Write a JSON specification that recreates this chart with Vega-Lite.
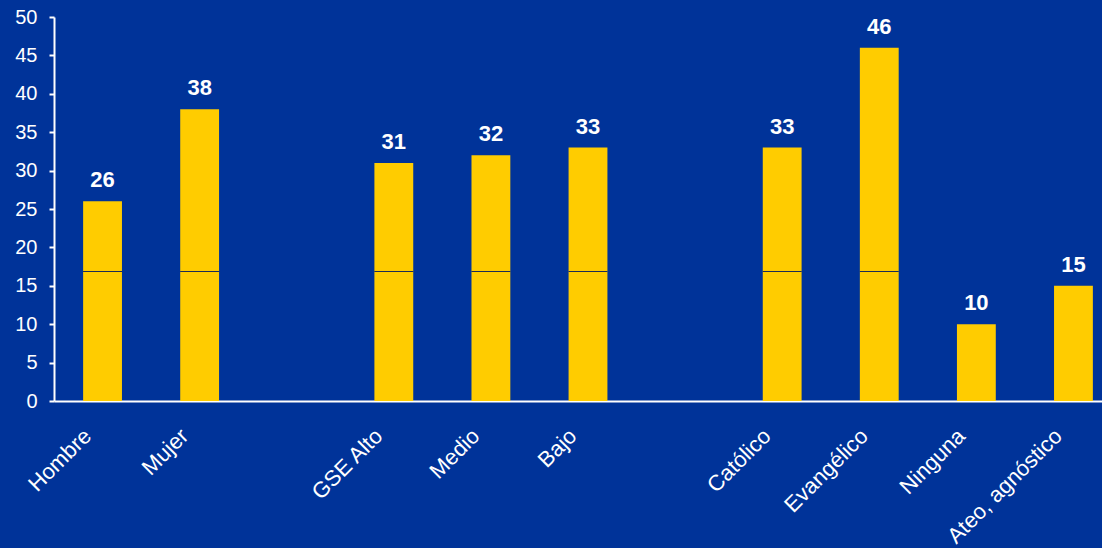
{
  "$schema": "https://vega.github.io/schema/vega-lite/v6.json",
  "width": 1068,
  "height": 384,
  "autosize": {"type": "none"},
  "padding": {"left": 54, "top": 17, "right": 0, "bottom": 147},
  "background": "#003399",
  "config": {
    "view": {"stroke": null},
    "font": "Liberation Sans",
    "axisY": {
      "labelColor": "white",
      "labelFontSize": 20,
      "labelPadding": 12,
      "labelOverlap": false,
      "labelBound": false,
      "labelFlush": false,
      "tickColor": "white",
      "tickSize": 5,
      "tickWidth": 2,
      "domainColor": "white",
      "domainWidth": 2,
      "grid": false
    }
  },
  "data": {
    "values": [
      {"cat": "Hombre", "value": 26},
      {"cat": "Mujer", "value": 38},
      {"cat": "GSE Alto", "value": 31},
      {"cat": "Medio", "value": 32},
      {"cat": "Bajo", "value": 33},
      {"cat": "Católico", "value": 33},
      {"cat": "Evangélico", "value": 46},
      {"cat": "Ninguna", "value": 10},
      {"cat": "Ateo, agnóstico", "value": 15}
    ]
  },
  "encoding": {
    "x": {
      "field": "cat",
      "type": "nominal",
      "sort": null,
      "scale": {
        "domain": ["Hombre", "Mujer", "gap1", "GSE Alto", "Medio", "Bajo", "gap2", "Católico", "Evangélico", "Ninguna", "Ateo, agnóstico"],
        "paddingInner": 0.6,
        "paddingOuter": 0.3
      },
      "axis": {
        "title": null,
        "labelExpr": "indexof(datum.value, 'gap') === 0 ? '' : datum.value",
        "labelAngle": -45,
        "labelAlign": "right",
        "labelBaseline": "top",
        "labelPadding": 24,
        "labelOffset": -22,
        "labelColor": "white",
        "labelFontSize": 22,
        "labelOverlap": false,
        "labelBound": false,
        "ticks": false,
        "domainColor": "white",
        "domainWidth": 2,
        "grid": false
      }
    },
    "y": {
      "field": "value",
      "type": "quantitative",
      "scale": {"domain": [0, 50]},
      "axis": {"title": null, "values": [0, 5, 10, 15, 20, 25, 30, 35, 40, 45, 50]}
    }
  },
  "layer": [
    {
      "mark": {"type": "bar", "color": "#FFCC00"}
    },
    {
      "transform": [{"filter": "datum.value > 16.86"}],
      "mark": {"type": "tick", "color": "#1c2b55", "opacity": 1, "thickness": 1, "size": 39, "orient": "horizontal"},
      "encoding": {
        "y": {"datum": 16.86, "type": "quantitative", "axis": {"title": null, "values": [0, 5, 10, 15, 20, 25, 30, 35, 40, 45, 50]}}
      }
    },
    {
      "mark": {"type": "text", "color": "white", "fontWeight": "bold", "fontSize": 22, "baseline": "alphabetic", "dy": -14},
      "encoding": {
        "text": {"field": "value", "type": "quantitative"}
      }
    }
  ]
}
